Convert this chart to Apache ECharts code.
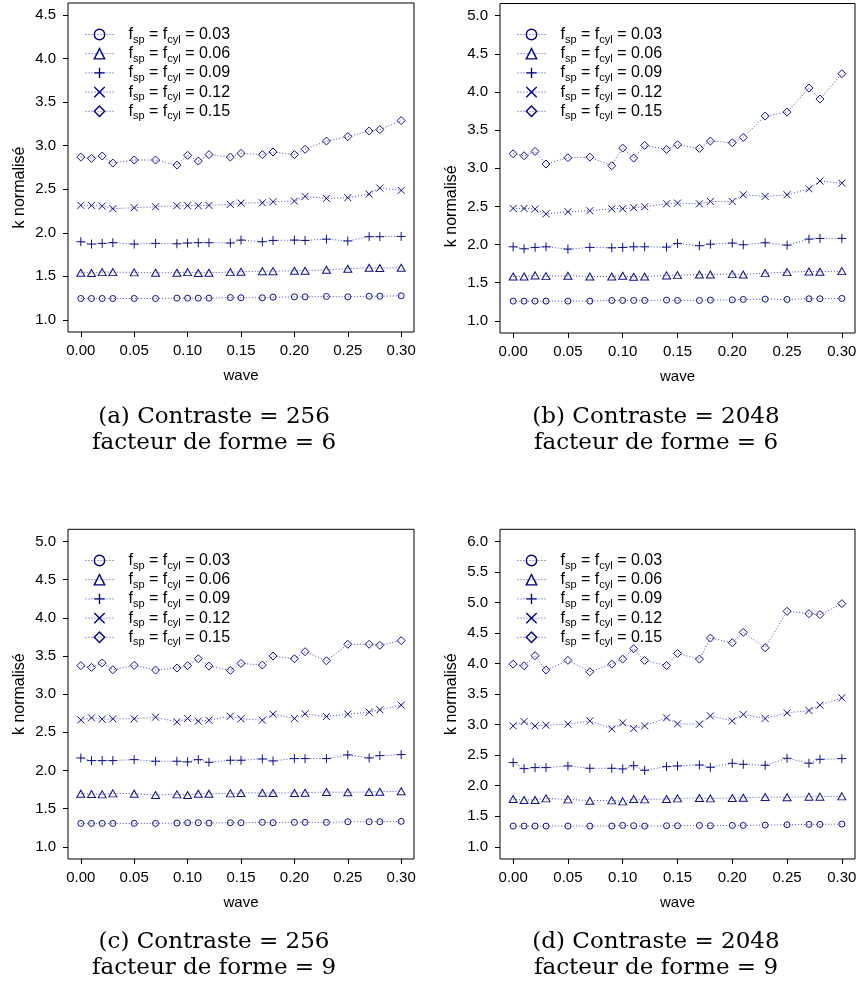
<!DOCTYPE html>
<html>
<head>
<meta charset="utf-8">
<script src="https://cdn.jsdelivr.net/npm/echarts@6/dist/echarts.min.js"></script>
<style>
html,body{margin:0;padding:0;background:#fff;}
#chart{width:859px;height:994px;}
</style>
</head>
<body>
<div id="chart"></div>
<script>
// ---------- data ----------
const wave = [0, 0.01, 0.02, 0.03, 0.05, 0.07, 0.09, 0.10, 0.11, 0.12, 0.14, 0.15, 0.17, 0.18, 0.20, 0.21, 0.23, 0.25, 0.27, 0.28, 0.30];
const fValues = ['0.03', '0.06', '0.09', '0.12', '0.15'];
const xTicks = [0, 0.05, 0.10, 0.15, 0.20, 0.25, 0.30];
const yTicksA = [1.0, 1.5, 2.0, 2.5, 3.0, 3.5, 4.0, 4.5];
const yTicksB = [1.0, 1.5, 2.0, 2.5, 3.0, 3.5, 4.0, 4.5, 5.0];
const yTicksC = [1.0, 1.5, 2.0, 2.5, 3.0, 3.5, 4.0, 4.5, 5.0];
const yTicksD = [1.0, 1.5, 2.0, 2.5, 3.0, 3.5, 4.0, 4.5, 5.0, 5.5, 6.0];

// (a) Contraste = 256, facteur de forme = 6
const a_f03 = [1.245,1.245,1.245,1.245,1.245,1.245,1.249,1.249,1.249,1.249,1.256,1.253,1.253,1.260,1.264,1.264,1.268,1.264,1.271,1.271,1.276];
const a_f06 = [1.541,1.538,1.548,1.548,1.545,1.541,1.541,1.548,1.538,1.541,1.548,1.552,1.559,1.559,1.564,1.564,1.575,1.587,1.598,1.595,1.598];
const a_f09 = [1.897,1.870,1.878,1.886,1.870,1.878,1.874,1.882,1.886,1.886,1.882,1.916,1.897,1.912,1.916,1.912,1.927,1.906,1.955,1.955,1.958];
const a_f12 = [2.315,2.315,2.307,2.277,2.288,2.299,2.311,2.311,2.311,2.315,2.326,2.341,2.345,2.357,2.364,2.418,2.395,2.403,2.445,2.514,2.487];
const a_f15 = [2.870,2.855,2.882,2.801,2.836,2.836,2.778,2.890,2.824,2.898,2.870,2.913,2.898,2.928,2.898,2.959,3.054,3.105,3.169,3.185,3.289];

// (b) Contraste = 2048, facteur de forme = 6
const b_f03 = [1.258,1.258,1.258,1.258,1.258,1.258,1.267,1.267,1.267,1.267,1.271,1.267,1.267,1.271,1.275,1.280,1.284,1.280,1.289,1.289,1.293];
const b_f06 = [1.581,1.581,1.595,1.586,1.590,1.581,1.581,1.590,1.577,1.581,1.595,1.599,1.608,1.608,1.612,1.608,1.625,1.638,1.647,1.643,1.651];
const b_f09 = [1.970,1.944,1.962,1.970,1.940,1.962,1.957,1.962,1.970,1.970,1.966,2.014,1.984,2.005,2.019,1.997,2.023,1.992,2.071,2.080,2.080];
const b_f12 = [2.473,2.473,2.464,2.403,2.430,2.443,2.469,2.469,2.482,2.495,2.534,2.543,2.534,2.565,2.565,2.652,2.631,2.652,2.731,2.832,2.805];
const b_f15 = [3.190,3.164,3.221,3.055,3.138,3.146,3.033,3.264,3.133,3.300,3.247,3.308,3.260,3.356,3.334,3.404,3.684,3.737,4.051,3.907,4.239];

// (c) Contraste = 256, facteur de forme = 9
const c_f03 = [1.306,1.306,1.306,1.306,1.306,1.306,1.311,1.315,1.315,1.311,1.315,1.315,1.320,1.315,1.320,1.320,1.320,1.328,1.328,1.328,1.333];
const c_f06 = [1.696,1.692,1.687,1.700,1.696,1.678,1.687,1.678,1.696,1.696,1.700,1.705,1.709,1.705,1.705,1.709,1.718,1.714,1.718,1.722,1.727];
const c_f09 = [2.164,2.129,2.129,2.129,2.142,2.121,2.121,2.112,2.142,2.107,2.134,2.134,2.151,2.125,2.156,2.156,2.156,2.204,2.164,2.195,2.208];
const c_f12 = [2.663,2.690,2.672,2.677,2.677,2.698,2.637,2.681,2.646,2.659,2.711,2.677,2.659,2.738,2.681,2.742,2.707,2.738,2.764,2.795,2.856];
const c_f15 = [3.373,3.351,3.408,3.320,3.377,3.316,3.342,3.373,3.464,3.368,3.311,3.403,3.381,3.499,3.464,3.556,3.438,3.653,3.653,3.640,3.701];

// (d) Contraste = 2048, facteur de forme = 9
const d_f03 = [1.339,1.339,1.339,1.339,1.339,1.339,1.339,1.350,1.345,1.339,1.345,1.345,1.350,1.345,1.350,1.350,1.356,1.361,1.367,1.367,1.372];
const d_f06 = [1.782,1.766,1.766,1.793,1.777,1.755,1.760,1.744,1.782,1.777,1.782,1.793,1.799,1.793,1.799,1.804,1.815,1.810,1.821,1.821,1.826];
const d_f09 = [2.379,2.280,2.297,2.297,2.324,2.286,2.286,2.275,2.329,2.253,2.313,2.324,2.340,2.302,2.368,2.351,2.335,2.450,2.368,2.433,2.444];
const d_f12 = [2.980,3.051,2.980,2.991,3.008,3.062,2.931,3.030,2.937,2.980,3.112,3.013,3.008,3.144,3.062,3.166,3.101,3.194,3.232,3.319,3.440];
const d_f15 = [3.992,3.965,4.129,3.894,4.053,3.867,3.992,4.074,4.244,4.053,3.970,4.167,4.074,4.419,4.342,4.512,4.260,4.857,4.818,4.802,4.982];

const captionsA = ['(a) Contraste = 256', 'facteur de forme = 6'];
const captionsB = ['(b) Contraste = 2048', 'facteur de forme = 6'];
const captionsC = ['(c) Contraste = 256', 'facteur de forme = 9'];
const captionsD = ['(d) Contraste = 2048', 'facteur de forme = 9'];

// ---------- styling / layout ----------
const SYM_COLOR = '#10108f';
const LINE_COLOR = '#4848b8';
const SANS = '"Liberation Sans", Arial, sans-serif';
const SERIF = '"DejaVu Serif", serif';

const symbolPaths = [
  'path://M10,5A5,5,0,1,1,0,5A5,5,0,1,1,10,5Z',
  'path://M5,0L10,8.66L0,8.66Z',
  'path://M0,5L10,5M5,0L5,10',
  'path://M0,0L10,10M10,0L0,10',
  'path://M5,0L10,5L5,10L0,5Z'
];
const symbolSizes = [6, [8, 7], 9, 7, 8];

const panels = [
  {series: [a_f03, a_f06, a_f09, a_f12, a_f15], yTicks: yTicksA, ymin: 0.86, ymax: 4.64,
   grid: {left: 68, top: 3, width: 346, height: 329}, nameShift: 20,
   legend: {left: 85, top: 24}, cap: captionsA, capX: 214, capY: [417, 443]},
  {series: [b_f03, b_f06, b_f09, b_f12, b_f15], yTicks: yTicksB, ymin: 0.84, ymax: 5.16,
   grid: {left: 500, top: 3.5, width: 355, height: 329.5}, nameShift: 38,
   legend: {left: 517, top: 24}, cap: captionsB, capX: 656, capY: [417, 443]},
  {series: [c_f03, c_f06, c_f09, c_f12, c_f15], yTicks: yTicksC, ymin: 0.84, ymax: 5.16,
   grid: {left: 68, top: 529.3, width: 346, height: 329.7}, nameShift: 0,
   legend: {left: 85, top: 550}, cap: captionsC, capX: 214, capY: [942, 968]},
  {series: [d_f03, d_f06, d_f09, d_f12, d_f15], yTicks: yTicksD, ymin: 0.8, ymax: 6.2,
   grid: {left: 500, top: 529.3, width: 355, height: 329.7}, nameShift: 0,
   legend: {left: 517, top: 550}, cap: captionsD, capX: 656, capY: [942, 968]}
];

const seriesNames = fValues.map(v => 'fsp = fcyl = ' + v);

const grids = [], xAxes = [], yAxes = [], series = [], legends = [], graphics = [];
panels.forEach((p, i) => {
  grids.push(Object.assign({show: true, borderColor: '#000', borderWidth: 1,
    backgroundColor: 'transparent', containLabel: false, outerBoundsMode: 'none'}, p.grid));
  xAxes.push({
    type: 'value', gridIndex: i, min: -0.012, max: 0.312,
    name: 'wave', nameLocation: 'middle', nameGap: 36,
    nameTextStyle: {fontFamily: SANS, fontSize: 15, color: '#000'},
    axisLine: {show: false, onZero: false},
    axisTick: {show: true, inside: false, length: 5, customValues: xTicks, lineStyle: {color: '#000'}},
    axisLabel: {customValues: xTicks, margin: 11, fontFamily: SANS, fontSize: 15, color: '#000',
      formatter: v => v.toFixed(2)},
    splitLine: {show: false}
  });
  yAxes.push({
    type: 'value', gridIndex: i, min: p.ymin, max: p.ymax,
    name: 'k normalisé', nameLocation: 'middle', nameGap: 40, nameRotate: 90,
    nameTextStyle: {fontFamily: SANS, fontSize: 16, color: '#000',
      padding: [0, p.nameShift * 2, 0, 0]},
    axisLine: {show: false, onZero: false},
    axisTick: {show: true, inside: false, length: 5, customValues: p.yTicks, lineStyle: {color: '#000'}},
    axisLabel: {customValues: p.yTicks, margin: 12, fontFamily: SANS, fontSize: 15, color: '#000',
      formatter: v => v.toFixed(1)},
    splitLine: {show: false}
  });
  p.series.forEach((vals, k) => {
    series.push({
      type: 'line', name: seriesNames[k], xAxisIndex: i, yAxisIndex: i,
      data: wave.map((w, j) => [w, vals[j]]),
      symbol: symbolPaths[k], symbolSize: symbolSizes[k],
      showSymbol: true, showAllSymbol: true,
      itemStyle: {color: 'rgba(0,0,0,0)', borderColor: SYM_COLOR, borderWidth: 1},
      lineStyle: {color: LINE_COLOR, width: 1, type: [1, 2]},
      silent: true, animation: false, emphasis: {disabled: true}
    });
  });
  legends.push({
    orient: 'vertical', left: p.legend.left, top: p.legend.top, padding: 0,
    itemWidth: 28, itemHeight: 13, itemGap: -1.8, selectedMode: false,
    data: seriesNames,
    itemStyle: {color: 'rgba(0,0,0,0)', borderColor: '#000080', borderWidth: 1.4},
    lineStyle: {color: LINE_COLOR, width: 1, type: [1, 2]},
    formatter: name => {
      const v = name.split('= ').pop();
      return '{n|f}{s|sp}{n| = f}{s|cyl}{n| = ' + v + '}';
    },
    textStyle: {
      padding: [0, 0, 0, 10],
      rich: {
        n: {fontFamily: SANS, fontSize: 16, lineHeight: 16, color: '#000'},
        s: {fontFamily: SANS, fontSize: 11, lineHeight: 6, padding: [10, 0, 0, 0], color: '#000'}
      }
    }
  });
  p.cap.forEach((t, j) => {
    graphics.push({
      type: 'text', x: p.capX, y: p.capY[j], silent: true,
      style: {text: t, fill: '#000', font: '23px ' + SERIF, align: 'center', verticalAlign: 'middle'}
    });
  });
});

const chart = echarts.init(document.getElementById('chart'), null, {renderer: 'canvas'});
chart.setOption({
  animation: false,
  backgroundColor: '#fff',
  grid: grids, xAxis: xAxes, yAxis: yAxes, series: series, legend: legends,
  graphic: graphics
});
</script>
</body>
</html>
